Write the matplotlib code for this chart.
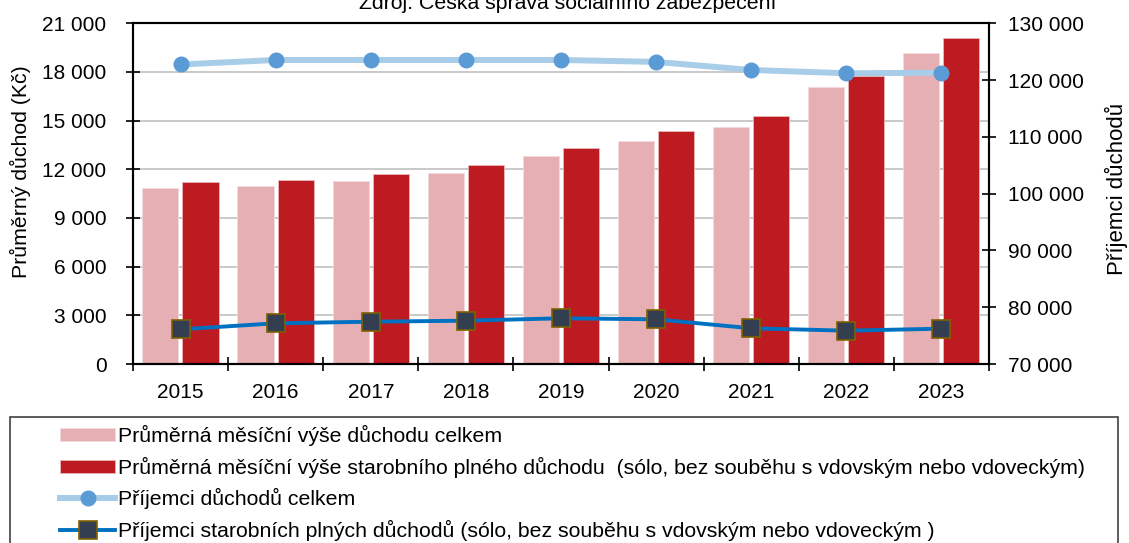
import matplotlib
matplotlib.use("Agg")
import matplotlib.pyplot as plt
from matplotlib.ticker import FuncFormatter, FixedLocator
from matplotlib.patches import Rectangle
import numpy as np

plt.rcParams['font.family'] = ['Liberation Sans', 'DejaVu Sans']

years = ["2015", "2016", "2017", "2018", "2019", "2020", "2021", "2022", "2023"]
avg_total = [10850, 10970, 11270, 11770, 12810, 13740, 14630, 17090, 19190]
avg_oldage = [11220, 11340, 11710, 12260, 13310, 14360, 15270, 17780, 20080]
recipients_total = [122750, 123540, 123540, 123540, 123540, 123200, 121780, 121200, 121300]
recipients_oldage = [76110, 77170, 77450, 77630, 78050, 77870, 76290, 75870, 76220]

title = "Zdroj: Česká správa sociálního zabezpečení"
ylabel_left = "Průměrný důchod (Kč)"
ylabel_right = "Příjemci důchodů"
labels = [
    "Průměrná měsíční výše důchodu celkem",
    "Průměrná měsíční výše starobního plného důchodu  (sólo, bez souběhu s vdovským nebo vdoveckým)",
    "Příjemci důchodů celkem",
    "Příjemci starobních plných důchodů (sólo, bez souběhu s vdovským nebo vdoveckým )",
]

W, H = 1129, 543
fig = plt.figure(figsize=(W / 100, H / 100), dpi=100)
L, R, T, B = 133, 989, 23.3, 364
ax = fig.add_axes([L / W, 1 - B / H, (R - L) / W, (B - T) / H])

x = np.arange(len(years))
fs = 15
lfs = 15.3
b1 = ax.bar(x - 0.212, avg_total, width=0.38, color="#E6AFB3", edgecolor="#F3DADC", linewidth=0.6, zorder=2)
b2 = ax.bar(x + 0.21, avg_oldage, width=0.38, color="#BE1A22", edgecolor="#E8B8BA", linewidth=0.6, zorder=2)
ax.set_xlim(-0.5, len(years) - 0.5)
ax.set_ylim(0, 21000)
ax.set_yticks(np.arange(0, 21001, 3000))
fmt = FuncFormatter(lambda v, p: f"{int(v):,}".replace(",", " "))
ax.yaxis.set_major_formatter(fmt)
ax.set_axisbelow(True)
ax.yaxis.grid(True, color="#C0C0C0", linewidth=1.2)
ax.set_xticks(x)
ax.set_xticklabels(years)
ax.xaxis.set_minor_locator(FixedLocator(np.arange(-0.5, len(years), 1.0)))
ax.tick_params(axis='x', which='major', length=0, pad=13.5, labelsize=fs)
ax.tick_params(axis='x', which='minor', direction='inout', length=9.5, width=1.2)
ax.tick_params(axis='y', direction='inout', length=10, width=1.2, pad=14, labelsize=fs)

ax2 = ax.twinx()
ax2.set_ylim(70000, 130000)
ax2.set_yticks(np.arange(70000, 130001, 10000))
ax2.yaxis.set_major_formatter(fmt)
ax2.tick_params(axis='y', direction='inout', length=10, width=1.2, pad=9, labelsize=fs)
l1, = ax2.plot(x, recipients_total, color="#A8CDE9", linewidth=4.3, marker='o',
               markersize=10.5, markerfacecolor="#5B9BD5", markeredgecolor="#5B9BD5", zorder=3)
l2, = ax2.plot(x, recipients_oldage, color="#0070C0", linewidth=2.8, marker='s',
               markersize=13, markerfacecolor="#333F50", markeredgecolor="#7F6000",
               markeredgewidth=1.2, zorder=4)

for a in (ax, ax2):
    for s in a.spines.values():
        s.set_linewidth(1.5)
        s.set_color("black")

fig.text(568 / W, 1 - 9 / H, title, ha='center', va='baseline', fontsize=lfs)
fig.text(20 / W, 1 - 172 / H, ylabel_left, rotation=90, ha='center', va='center', fontsize=lfs)
fig.text(1116 / W, 1 - 189 / H, ylabel_right, rotation=90, ha='center', va='center', fontsize=16)

# legend frame
fig.patches.append(Rectangle((10 / W, -0.1), 1108 / W, 1 - 417 / H + 0.1,
                             transform=fig.transFigure, fill=False, edgecolor="#404040",
                             linewidth=1.2))
leg = fig.legend([b1, b2, l1, l2], labels, loc='upper left',
                 bbox_to_anchor=(60 / W, 1 - 425 / H), frameon=False, fontsize=lfs,
                 borderpad=0, borderaxespad=0, handlelength=2.6, handletextpad=0.14,
                 labelspacing=0.5, handleheight=0.6, numpoints=1)

fig.savefig("out.png", dpi=100)
